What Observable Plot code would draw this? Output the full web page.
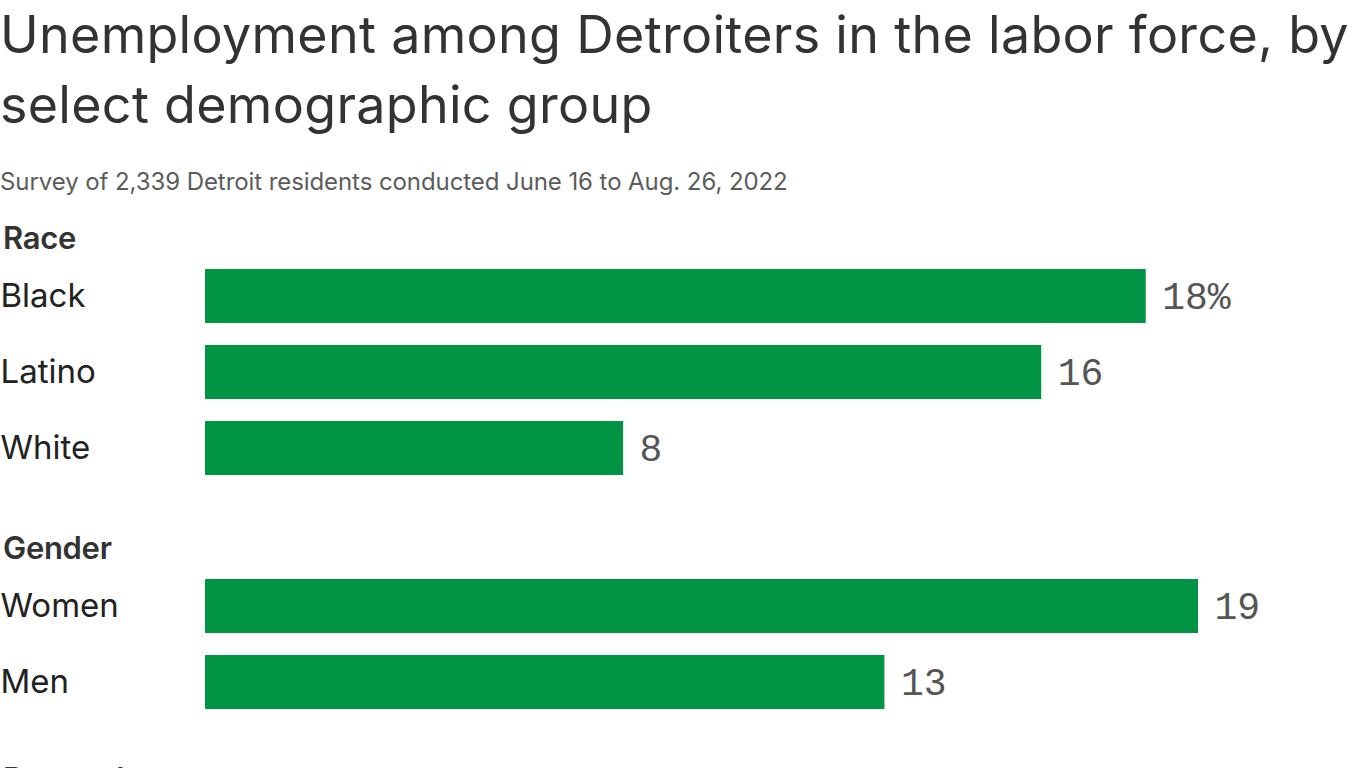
<!DOCTYPE html>
<html>
<head>
<meta charset="utf-8">
<script src="https://cdn.jsdelivr.net/npm/d3@7"></script>
<script src="https://cdn.jsdelivr.net/npm/@observablehq/plot@0.6"></script>
<style>
  html, body { margin: 0; padding: 0; background: #fff; }
  body { width: 1366px; height: 768px; overflow: hidden; font-family: Inter, "Noto Sans", sans-serif; }
  .title { font-size: 52px; line-height: 70px; color: #333; letter-spacing: 0.3px; margin: 0; white-space: nowrap; }
  .subtitle { font-size: 24px; line-height: 40px; color: #5c5c5c; letter-spacing: -0.08px; margin-top: 22px; white-space: nowrap; }
  #chart { padding-top: 17px; }
  .group { font-size: 31px; line-height: 38px; font-weight: 600; color: #333; padding-left: 3px; letter-spacing: -0.01em; white-space: nowrap; }
  .gap { height: 42px; }
  .gap.last { height: 40px; }
  svg { display: block; }
</style>
</head>
<body>
<div class="title">Unemployment among Detroiters in the labor force, by<br>select demographic group</div>
<div class="subtitle">Survey of 2,339 Detroit residents conducted June 16 to Aug. 26, 2022</div>
<div id="chart"></div>
<script>
const groups = ["Race", "Gender", "Parental status"];
const raceCategories = ["Black", "Latino", "White"];
const raceValues = [18, 16, 8];
const genderCategories = ["Women", "Men"];
const genderValues = [19, 13];
const xMax = 19;

const sections = [
  {name: groups[0], cats: raceCategories, vals: raceValues},
  {name: groups[1], cats: genderCategories, vals: genderValues},
  {name: groups[2], cats: [], vals: []}
];

const chart = document.getElementById("chart");
const step = 76.5;
sections.forEach((s, si) => {
  if (si > 0) {
    const g = document.createElement("div");
    g.className = si === sections.length - 1 ? "gap last" : "gap";
    chart.appendChild(g);
  }
  const h = document.createElement("div");
  h.className = "group";
  h.textContent = s.name;
  chart.appendChild(h);
  if (!s.cats.length) return;
  const data = s.cats.map((c, i) => ({cat: c, value: s.vals[i], first: si === 0 && i === 0}));
  const plot = Plot.plot({
    width: 1366,
    height: step * s.cats.length,
    marginLeft: 205,
    marginRight: 168,
    marginTop: 0,
    marginBottom: 0,
    x: {domain: [0, xMax], axis: null},
    y: {domain: s.cats, paddingInner: 0.29, paddingOuter: 0.145, label: null},
    style: {fontFamily: "Inter, sans-serif", overflow: "visible"},
    marks: [
      Plot.barX(data, {x: "value", y: "cat", fill: "#009444"}),
      Plot.axisY({tickSize: 0, textAnchor: "start", dx: -196, fontSize: 33, fill: "#222", label: null, tickFormat: d => d}),
      Plot.text(data, {x: "value", y: "cat", text: d => d.first ? d.value + "%" : String(d.value), textAnchor: "start", dx: 16, dy: 0, fontSize: 38, fontFamily: "Liberation Mono, monospace", fill: "#555"})
    ]
  });
  chart.appendChild(plot);
});
</script>
</body>
</html>
